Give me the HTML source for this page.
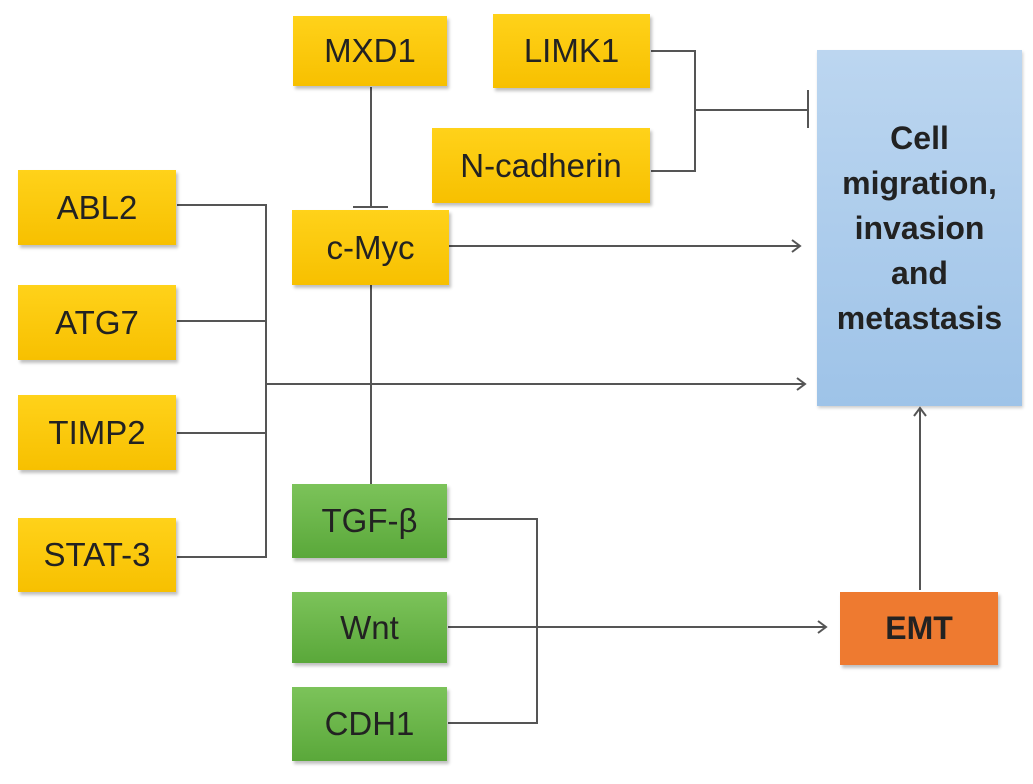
<!DOCTYPE html>
<html><head><meta charset="utf-8"><style>
body{margin:0;width:1033px;height:784px;background:#fff;position:relative;overflow:hidden;font-family:"Liberation Sans",sans-serif}
.b{position:absolute;display:flex;align-items:center;justify-content:center;font-size:33px;color:#222;box-shadow:2px 3px 3px rgba(0,0,0,.25)}
.y{background:linear-gradient(#ffd21a,#f7c000)}
.g{background:linear-gradient(#7cc35a,#5aa83a)}
svg{position:absolute;left:0;top:0}
</style></head><body>
<svg width="1033" height="784" stroke="#555" stroke-width="2" fill="none">
<path d="M177 205H266V557H177M177 321H266M177 433H266M266 384H805M797 378L805 384L797 390"/>
<path d="M371 87V207M353 207H388M353 283H388M371 283V485"/>
<path d="M449 246H800M792 240L800 246L792 252"/>
<path d="M651 51H695V171H651M695 110H808M808 90V128"/>
<path d="M448 519H537V723H448M448 627H826M818 621L826 627L818 633"/>
<path d="M920 590V408M914 416L920 408L926 416"/>
</svg>
<div class="b y" style="left:293px;top:16px;width:154px;height:70px">MXD1</div>
<div class="b y" style="left:493px;top:14px;width:157px;height:74px">LIMK1</div>
<div class="b y" style="left:432px;top:128px;width:218px;height:75px">N-cadherin</div>
<div class="b y" style="left:292px;top:210px;width:157px;height:75px">c-Myc</div>
<div class="b y" style="left:18px;top:170px;width:158px;height:75px">ABL2</div>
<div class="b y" style="left:18px;top:285px;width:158px;height:75px">ATG7</div>
<div class="b y" style="left:18px;top:395px;width:158px;height:75px">TIMP2</div>
<div class="b y" style="left:18px;top:518px;width:158px;height:74px">STAT-3</div>
<div class="b g" style="left:292px;top:484px;width:155px;height:74px">TGF-β</div>
<div class="b g" style="left:292px;top:592px;width:155px;height:71px">Wnt</div>
<div class="b g" style="left:292px;top:687px;width:155px;height:74px">CDH1</div>
<div class="b" style="left:840px;top:592px;width:158px;height:73px;background:#ee7a30;font-weight:bold;font-size:32px">EMT</div>
<div class="b" style="left:817px;top:50px;width:205px;height:356px;background:linear-gradient(#bcd6f0,#9ec3e8);font-weight:bold;font-size:32px;line-height:45px;text-align:center;box-shadow:1px 2px 3px rgba(0,0,0,.2)">Cell<br>migration,<br>invasion<br>and<br>metastasis</div>
</body></html>
